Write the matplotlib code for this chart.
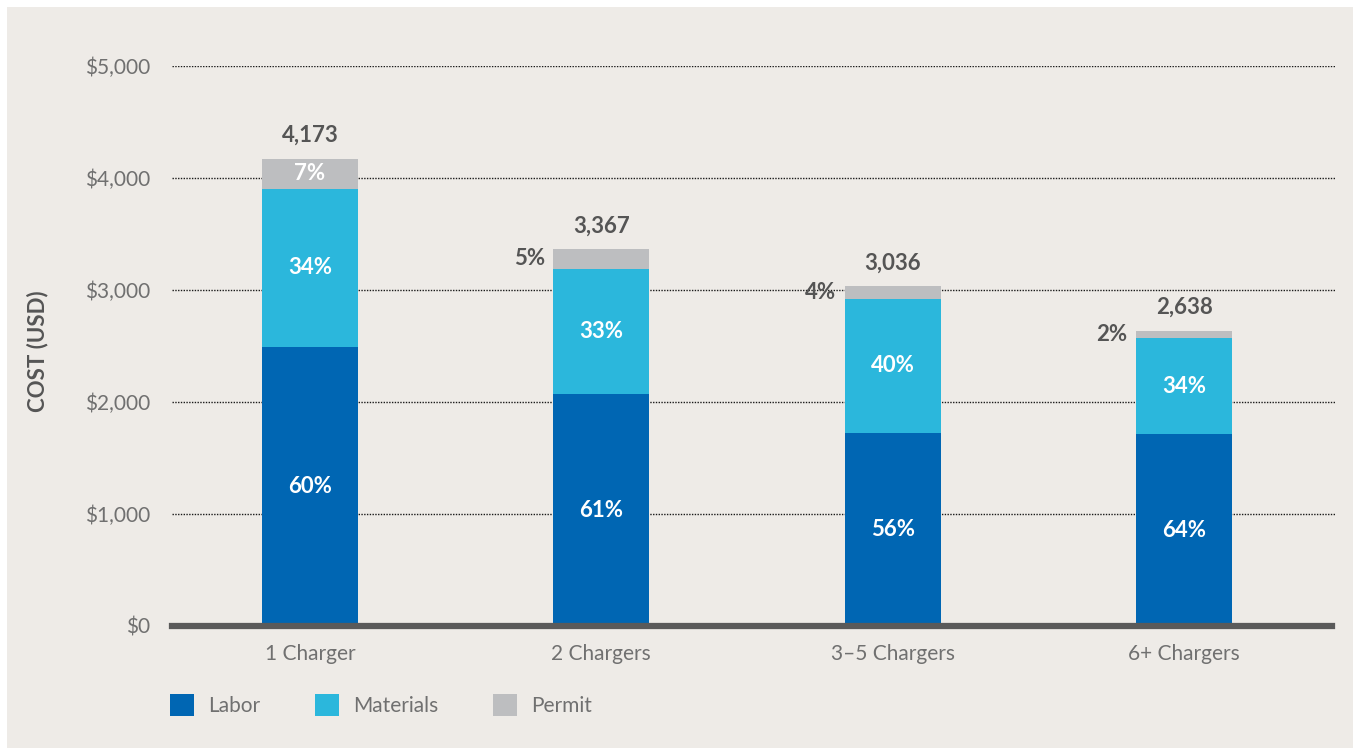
import matplotlib.pyplot as plt
from matplotlib.patches import Patch, Rectangle

categories = ["1 Charger", "2 Chargers", "3\u20135 Chargers", "6+ Chargers"]
labor = [2491, 2071, 1723, 1714]
materials = [1411, 1116, 1197, 857]
permit = [271, 180, 116, 67]
totals = ["4,173", "3,367", "3,036", "2,638"]
labor_pct = ["60%", "61%", "56%", "64%"]
materials_pct = ["34%", "33%", "40%", "34%"]
permit_pct = ["7%", "5%", "4%", "2%"]
yticks = [0, 1000, 2000, 3000, 4000, 5000]
ytick_labels = ["$0", "$1,000", "$2,000", "$3,000", "$4,000", "$5,000"]

BG = "#EEEBE7"
C_LABOR = "#0066B3"
C_MAT = "#2BB7DC"
C_PERMIT = "#BDBEC0"
GRAY = "#707070"
DARK = "#555555"

plt.rcParams["font.family"] = ["Lato", "DejaVu Sans"]

W, H = 1353, 748
fig = plt.figure(figsize=(W / 100, H / 100), dpi=100, facecolor="white")
fig.add_artist(Rectangle((7 / W, 0), 1, 1 - 7 / H, transform=fig.transFigure,
                         facecolor=BG, edgecolor="none", zorder=-10))

ax = fig.add_axes([172 / W, (H - 626) / H, (1335 - 172) / W, 560 / H])
ax.set_facecolor("none")

x = list(range(len(categories)))
bw = 0.33
mat_bottom = labor
permit_bottom = [l + m for l, m in zip(labor, materials)]

ax.bar(x, labor, bw, color=C_LABOR, zorder=2, label="Labor")
ax.bar(x, materials, bw, bottom=mat_bottom, color=C_MAT, zorder=2, label="Materials")
ax.bar(x, permit, bw, bottom=permit_bottom, color=C_PERMIT, zorder=2, label="Permit")

for i in x:
    ax.text(i, labor[i] / 2, labor_pct[i], ha="center", va="center",
            color="white", fontsize=16, fontweight="bold", zorder=3)
    ax.text(i, mat_bottom[i] + materials[i] / 2, materials_pct[i], ha="center",
            va="center", color="white", fontsize=16, fontweight="bold", zorder=3)
    pmid = permit_bottom[i] + permit[i] / 2
    if permit[i] > 250:
        ax.text(i, pmid, permit_pct[i], ha="center", va="center",
                color="white", fontsize=16, fontweight="bold", zorder=3)
    else:
        ax.annotate(permit_pct[i], (i - bw / 2, pmid), xytext=(-6, 0),
                    textcoords="offset points", ha="right", va="center",
                    color=DARK, fontsize=16, fontweight="bold")
    ax.annotate(totals[i], (i, permit_bottom[i] + permit[i]), xytext=(0, 9),
                textcoords="offset points", ha="center", va="bottom",
                color=DARK, fontsize=16, fontweight="bold")

ax.set_xlim(-0.4737, 3.518)
ax.set_ylim(0, 5000)
ax.set_xticks(x)
ax.set_xticklabels(categories)
ax.set_yticks(yticks)
ax.set_yticklabels(ytick_labels)
ax.tick_params(axis="both", length=0, colors=GRAY, labelsize=15)
ax.tick_params(axis="y", pad=16)
ax.tick_params(axis="x", pad=13)

for y in yticks[1:]:
    ax.axhline(y, color="#1A1A1A", linewidth=1.0, linestyle=(0, (1, 1)), zorder=0)

for s in ["top", "right", "left"]:
    ax.spines[s].set_visible(False)
ax.spines["bottom"].set_color("#5A5A5A")
ax.spines["bottom"].set_linewidth(4.5)
ax.spines["bottom"].set_zorder(4)
ax.spines["bottom"].set_bounds(-0.4737, 3.508)

fig.text(38 / W, 1 - 351 / H, "COST (USD)", rotation=90, ha="center", va="center",
         color=DARK, fontsize=16, fontweight="bold")

handles = [Patch(facecolor=C_LABOR), Patch(facecolor=C_MAT), Patch(facecolor=C_PERMIT)]
fig.legend(handles, ["Labor", "Materials", "Permit"], ncol=3, frameon=False,
           loc="center left", bbox_to_anchor=(170 / W, 1 - 705 / H),
           borderpad=0, borderaxespad=0, handlelength=1.15, handleheight=1.2,
           handletextpad=0.7, columnspacing=2.6, fontsize=15, labelcolor=GRAY)

fig.savefig("out.png", dpi=100, facecolor="white")
